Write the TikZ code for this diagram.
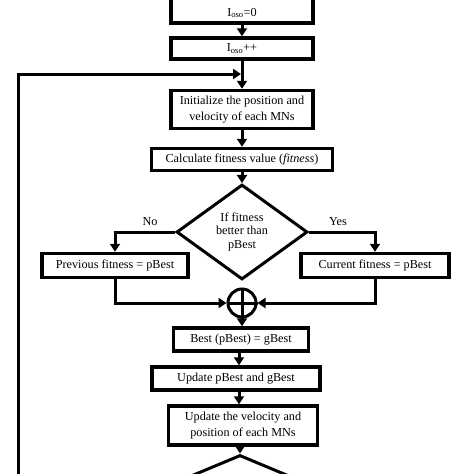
\documentclass[tikz,border=0pt]{standalone}
\usepackage{fontspec}
\setmainfont{Liberation Serif}
\usetikzlibrary{arrows.meta,shapes.geometric}
\begin{document}
\begin{tikzpicture}[x=1pt, y=-1pt,
    box/.style={draw, line width=3.4pt, align=center, inner sep=1pt,
      font=\fontsize{12.2}{16}\selectfont},
    dec/.style={draw, diamond, line width=3pt, inner sep=0pt, align=center,
      font=\fontsize{12.2}{14}\selectfont},
    lbl/.style={font=\fontsize{12.2}{12}\selectfont},
    arr/.style={line width=3pt, -{Triangle[length=8pt,width=10pt]}},
    ln/.style={line width=3pt}]
    \useasboundingbox (0,0) rectangle (474,474);
    \clip (0,0) rectangle (474,474);
    \node[box, minimum width=142, text height=32, text depth=3, inner ysep=4, anchor=base] (start) at (242,16) {I\textsubscript{oso}=0};
    \node[box, minimum width=142, minimum height=21] (inc) at (242,48.5) {I\textsubscript{oso}++};
    \node[box, minimum width=142, minimum height=38] (initpos) at (242,109.5) {Initialize the position and\\velocity of each MNs};
    \node[box, minimum width=181, minimum height=22] (calc) at (242,159.5) {Calculate fitness value (\textit{fitness})};
    \node[dec, minimum width=131, minimum height=95, aspect=1.38] (cmp) at (242,232) {If fitness\\better than\\pBest};
    \node[box, minimum width=146, minimum height=24] (prev) at (115,265.5) {Previous fitness = pBest};
    \node[box, minimum width=148, minimum height=24] (cur) at (375,265.5) {Current fitness = pBest};
    \node[lbl] (no) at (150,222) {No};
    \node[lbl] (yes) at (338,222) {Yes};
    \node[circle, draw, line width=3pt, minimum size=28, inner sep=0pt] (join) at (242,303) {};
    \node[box, minimum width=135, minimum height=23] (best) at (241,339.5) {Best (pBest) = gBest};
    \node[box, minimum width=168, minimum height=23] (upd) at (236,378.5) {Update pBest and gBest};
    \node[box, minimum width=149, minimum height=39] (vel) at (243,425.5) {Update the velocity and\\position of each MNs};
    \node[dec, minimum width=200, minimum height=84] (stop) at (240,497) {};
    \coordinate (corner) at (18,74);
    \coordinate (back) at (241,74);
    \draw[arr] (start) -- (inc);
    \draw[arr] (inc) -- (initpos);
    \draw[arr] (initpos) -- (calc);
    \draw[arr] (calc) -- (cmp);
    \draw[arr] (cmp.west) -| (prev.north);
    \draw[arr] (cmp.east) -| (cur.north);
    \draw[arr] (prev.south) |- (join.west);
    \draw[arr] (cur.south) |- (join.east);
    \draw[ln] (join.north) -- (join.south) (join.west) -- (join.east);
    \draw[arr] (join.south) -- (join.south |- best.north);
    \draw[arr] (best.south -| 239,0) -- (upd.north -| 239,0);
    \draw[arr] (upd.south -| 239,0) -- (vel.north -| 239,0);
    \draw[arr] (vel.south -| 240,0) -- (stop.north);
    \draw[arr] (stop.west) -| (corner) -- (back);
  \end{tikzpicture}
\end{document}
